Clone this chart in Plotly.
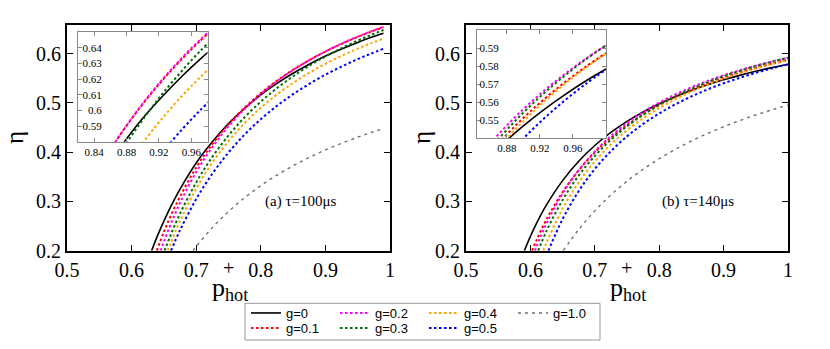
import plotly.graph_objects as go

# ---- data: efficiency eta vs p_hot^+ ----
G_LABELS = ["g=0", "g=0.1", "g=0.2", "g=0.3", "g=0.4", "g=0.5", "g=1.0"]

# (a) tau = 100 us
phot_a_g0 = [0.631, 0.64, 0.65, 0.66, 0.675, 0.7, 0.725, 0.75, 0.775, 0.8, 0.825, 0.85, 0.875, 0.9, 0.925, 0.95, 0.97, 0.99]
eta_a_g0 = [0.2, 0.230, 0.260, 0.288, 0.325, 0.378, 0.421, 0.458, 0.489, 0.516, 0.5395, 0.560, 0.5784, 0.595, 0.6094, 0.6227, 0.6324, 0.6414]
phot_a_g01 = [0.639, 0.65, 0.66, 0.675, 0.7, 0.725, 0.75, 0.775, 0.8, 0.825, 0.85, 0.875, 0.9, 0.925, 0.95, 0.97, 0.99]
eta_a_g01 = [0.2, 0.238, 0.269, 0.310, 0.369, 0.4165, 0.4565, 0.4904, 0.5195, 0.5449, 0.567, 0.5866, 0.6041, 0.6197, 0.6338, 0.6441, 0.6537]
phot_a_g02 = [0.645, 0.65, 0.66, 0.675, 0.7, 0.725, 0.75, 0.775, 0.8, 0.825, 0.85, 0.875, 0.9, 0.925, 0.95, 0.97, 0.99]
eta_a_g02 = [0.2, 0.2183, 0.2521, 0.2971, 0.3595, 0.4103, 0.4523, 0.4877, 0.5178, 0.5439, 0.5666, 0.5866, 0.6044, 0.6202, 0.6345, 0.6448, 0.6544]
phot_a_g03 = [0.651, 0.66, 0.675, 0.7, 0.725, 0.75, 0.775, 0.8, 0.825, 0.85, 0.875, 0.9, 0.925, 0.95, 0.97, 0.99]
eta_a_g03 = [0.2, 0.2302, 0.2752, 0.3385, 0.3905, 0.4339, 0.4708, 0.5024, 0.5299, 0.5539, 0.5752, 0.5941, 0.6111, 0.6263, 0.6375, 0.6479]
phot_a_g04 = [0.656, 0.66, 0.675, 0.7, 0.725, 0.75, 0.775, 0.8, 0.825, 0.85, 0.875, 0.9, 0.925, 0.95, 0.97, 0.99]
eta_a_g04 = [0.2, 0.2138, 0.2608, 0.326, 0.3787, 0.4223, 0.4589, 0.4901, 0.517, 0.5404, 0.561, 0.5792, 0.5955, 0.6101, 0.6207, 0.6306]
phot_a_g05 = [0.661, 0.675, 0.7, 0.725, 0.75, 0.775, 0.8, 0.825, 0.85, 0.875, 0.9, 0.925, 0.95, 0.97, 0.99]
eta_a_g05 = [0.2, 0.2417, 0.3047, 0.3563, 0.3993, 0.4357, 0.4669, 0.4939, 0.5176, 0.5385, 0.5571, 0.5737, 0.5887, 0.5996, 0.6098]
phot_a_g10 = [0.695, 0.7, 0.725, 0.75, 0.775, 0.8, 0.825, 0.85, 0.875, 0.9, 0.925, 0.95, 0.97, 0.99]
eta_a_g10 = [0.2, 0.2085, 0.2468, 0.2795, 0.3075, 0.332, 0.3534, 0.3723, 0.3892, 0.4044, 0.418, 0.4304, 0.4395, 0.448]

# (b) tau = 140 us
phot_b_g0 = [0.5906, 0.6, 0.61, 0.625, 0.65, 0.675, 0.7, 0.725, 0.75, 0.775, 0.8, 0.825, 0.85, 0.875, 0.9, 0.925, 0.95, 0.975, 1.0]
eta_b_g0 = [0.2, 0.2291, 0.2568, 0.2929, 0.3422, 0.3815, 0.4135, 0.44, 0.4624, 0.4815, 0.4981, 0.5126, 0.5253, 0.5366, 0.5467, 0.5558, 0.564, 0.5715, 0.5783]
phot_b_g01 = [0.6025, 0.61, 0.625, 0.65, 0.675, 0.7, 0.725, 0.75, 0.775, 0.8, 0.825, 0.85, 0.875, 0.9, 0.925, 0.95, 0.975, 1.0]
eta_b_g01 = [0.2, 0.2229, 0.2635, 0.3189, 0.3632, 0.3994, 0.4295, 0.4549, 0.4767, 0.4956, 0.5121, 0.5266, 0.5395, 0.5511, 0.5615, 0.5709, 0.5794, 0.5872]
phot_b_g02 = [0.607, 0.61, 0.625, 0.65, 0.675, 0.7, 0.725, 0.75, 0.775, 0.8, 0.825, 0.85, 0.875, 0.9, 0.925, 0.95, 0.975, 1.0]
eta_b_g02 = [0.2, 0.2101, 0.2552, 0.3158, 0.3632, 0.4014, 0.4328, 0.459, 0.4813, 0.5004, 0.517, 0.5316, 0.5445, 0.556, 0.5662, 0.5755, 0.5839, 0.5915]
phot_b_g03 = [0.612, 0.625, 0.65, 0.675, 0.7, 0.725, 0.75, 0.775, 0.8, 0.825, 0.85, 0.875, 0.9, 0.925, 0.95, 0.975, 1.0]
eta_b_g03 = [0.2, 0.2401, 0.303, 0.3524, 0.3922, 0.425, 0.4524, 0.4757, 0.4958, 0.5132, 0.5285, 0.542, 0.5541, 0.5649, 0.5746, 0.5835, 0.5915]
phot_b_g04 = [0.62, 0.625, 0.65, 0.675, 0.7, 0.725, 0.75, 0.775, 0.8, 0.825, 0.85, 0.875, 0.9, 0.925, 0.95, 0.975, 1.0]
eta_b_g04 = [0.2, 0.2163, 0.2853, 0.3387, 0.3811, 0.4157, 0.4445, 0.4688, 0.4895, 0.5075, 0.5231, 0.537, 0.5492, 0.5602, 0.57, 0.5789, 0.587]
phot_b_g05 = [0.628, 0.65, 0.675, 0.7, 0.725, 0.75, 0.775, 0.8, 0.825, 0.85, 0.875, 0.9, 0.925, 0.95, 0.975, 1.0]
eta_b_g05 = [0.2, 0.2642, 0.321, 0.3658, 0.402, 0.432, 0.4571, 0.4785, 0.497, 0.513, 0.5272, 0.5397, 0.5508, 0.5608, 0.5699, 0.578]
phot_b_g10 = [0.651, 0.675, 0.7, 0.725, 0.75, 0.775, 0.8, 0.825, 0.85, 0.875, 0.9, 0.925, 0.95, 0.975, 1.0]
eta_b_g10 = [0.2, 0.243, 0.2808, 0.3131, 0.3409, 0.3653, 0.3866, 0.4056, 0.4226, 0.4378, 0.4515, 0.464, 0.4754, 0.4858, 0.4954]

X_TICKS = [0.5, 0.6, 0.7, 0.8, 0.9, 1.0]
X_TICK_TEXT = ["0.5", "0.6", "0.7", "0.8", "0.9", "1"]
Y_TICKS = [0.2, 0.3, 0.4, 0.5, 0.6]
INSET_A_X = [0.84, 0.88, 0.92, 0.96]
INSET_A_Y = [0.59, 0.60, 0.61, 0.62, 0.63, 0.64]
INSET_A_Y_TEXT = ["0.59", "0.6", "0.61", "0.62", "0.63", "0.64"]
INSET_B_X = [0.88, 0.92, 0.96]
INSET_B_Y = [0.55, 0.56, 0.57, 0.58, 0.59]

PANEL_A = [(phot_a_g0, eta_a_g0), (phot_a_g01, eta_a_g01), (phot_a_g02, eta_a_g02),
           (phot_a_g03, eta_a_g03), (phot_a_g04, eta_a_g04), (phot_a_g05, eta_a_g05),
           (phot_a_g10, eta_a_g10)]
PANEL_B = [(phot_b_g0, eta_b_g0), (phot_b_g01, eta_b_g01), (phot_b_g02, eta_b_g02),
           (phot_b_g03, eta_b_g03), (phot_b_g04, eta_b_g04), (phot_b_g05, eta_b_g05),
           (phot_b_g10, eta_b_g10)]

# ---- styles ----
COLORS = ["black", "#ff0000", "#ff00ff", "#007000", "#ffa500", "#0000ff", "#707070"]
DASHES = ["solid", "2.5px,2.5px", "2.5px,2.5px", "2.5px,2.5px", "2.5px,2.5px", "2.5px,2.5px", "3px,4px"]
WIDTHS = [1.6, 2, 2, 2, 2, 2, 1.4]
# legend rows: gnuplot fills columns first
LEGEND_OF = ["legend", "legend2", "legend", "legend2", "legend", "legend2", "legend"]
LEGEND_RANK = [1, 1, 2, 2, 3, 3, 4]

W, H = 830, 349
SERIF = "Liberation Serif, Times New Roman, serif"
SANS = "Liberation Sans, Arial, sans-serif"


def px(x0, x1):
    return [x0 / W, x1 / W]


def py(top, bottom):
    return [1 - bottom / H, 1 - top / H]


fig = go.Figure()

# main panels first, insets after so they sit on top
for xa, ya, panel, show in [("x", "y", PANEL_A, True), ("x2", "y2", PANEL_B, False),
                            ("x3", "y3", PANEL_A, False), ("x4", "y4", PANEL_B, False)]:
    for i, (xs, ys) in enumerate(panel):
        fig.add_trace(go.Scatter(
            x=xs, y=ys, mode="lines", xaxis=xa, yaxis=ya,
            name=G_LABELS[i], showlegend=show,
            legend=LEGEND_OF[i], legendrank=LEGEND_RANK[i],
            line=dict(color=COLORS[i], dash=DASHES[i], width=WIDTHS[i], shape="spline"),
            hoverinfo="skip",
        ))

main_axis = dict(showgrid=False, zeroline=False, showline=True, linecolor="black", linewidth=2,
                 mirror="ticks", ticks="inside", ticklen=6, tickwidth=1, tickcolor="black",
                 automargin=False, tickfont=dict(family=SERIF, size=20, color="black"))
inset_axis = dict(showgrid=False, zeroline=False, showline=True, linecolor="#888888", linewidth=1,
                  mirror="ticks", ticks="inside", ticklen=4, tickwidth=1, tickcolor="#888888",
                  automargin=False, tickfont=dict(family=SERIF, size=11, color="black"))

dom_y_main = py(25, 250.7)
fig.update_layout(
    template="none",
    width=W, height=H, autosize=False,
    margin=dict(l=0, r=0, t=0, b=0),
    paper_bgcolor="white", plot_bgcolor="white",
    xaxis=dict(main_axis, domain=px(67, 390), range=[0.5, 1.0], tickvals=X_TICKS, ticktext=X_TICK_TEXT, anchor="y"),
    yaxis=dict(main_axis, domain=dom_y_main, range=[0.2, 0.658], tickvals=Y_TICKS, anchor="x"),
    xaxis2=dict(main_axis, domain=px(466, 788), range=[0.5, 1.0], tickvals=X_TICKS, ticktext=X_TICK_TEXT, anchor="y2"),
    yaxis2=dict(main_axis, domain=dom_y_main, range=[0.2, 0.658], tickvals=Y_TICKS, anchor="x2"),
    xaxis3=dict(inset_axis, domain=px(78, 207.5), range=[0.82, 0.98], tickvals=INSET_A_X, anchor="y3"),
    yaxis3=dict(inset_axis, domain=py(32.3, 141.7), range=[0.58, 0.65], tickvals=INSET_A_Y,
                ticktext=INSET_A_Y_TEXT, ticklabelstandoff=-27, anchor="x3"),
    xaxis4=dict(inset_axis, domain=px(477, 606), range=[0.844, 1.0], tickvals=INSET_B_X, anchor="y4"),
    yaxis4=dict(inset_axis, domain=py(30, 138), range=[0.54, 0.60], tickvals=INSET_B_Y,
                ticklabelstandoff=-25, anchor="x4"),
    legend=dict(orientation="h", x=246 / W, y=1 - 298 / H, xanchor="left", yanchor="top",
                entrywidth=44, font=dict(family=SANS, size=13, color="black"),
                bgcolor="rgba(0,0,0,0)", borderwidth=0, tracegroupgap=0),
    legend2=dict(orientation="h", x=246 / W, y=1 - 313 / H, xanchor="left", yanchor="top",
                 entrywidth=44, font=dict(family=SANS, size=13, color="black"),
                 bgcolor="rgba(0,0,0,0)", borderwidth=0, tracegroupgap=0),
    showlegend=True,
)

# legend frame around both legend rows
fig.add_shape(type="rect", xref="paper", yref="paper",
              x0=245 / W, x1=600 / W, y0=1 - 340 / H, y1=1 - 303.3 / H,
              line=dict(color="#999999", width=1), fillcolor="rgba(0,0,0,0)", layer="below")

# panel labels
fig.add_annotation(x=0.861, y=0.30, xref="x", yref="y", text="(a) \u03c4=100\u03bcs", showarrow=False,
                   font=dict(family=SERIF, size=15, color="black"))
fig.add_annotation(x=0.861, y=0.30, xref="x2", yref="y2", text="(b) \u03c4=140\u03bcs", showarrow=False,
                   font=dict(family=SERIF, size=15, color="black"))

# axis titles (gnuplot-style, placed as free text)
for cx_eta, cx_p in [(14, 230), (421, 628)]:
    fig.add_annotation(x=cx_eta / W, y=1 - 138 / H, xref="paper", yref="paper", text="\u03b7",
                       xanchor="center", yanchor="middle", textangle=-90, showarrow=False,
                       font=dict(family=SERIF, size=25, color="black"))
    fig.add_annotation(x=cx_p / W, y=1 - 289 / H, xref="paper", yref="paper", text="p<sub>hot</sub>",
                       xanchor="center", yanchor="middle", showarrow=False,
                       font=dict(family=SERIF, size=26, color="black"))
    fig.add_annotation(x=(cx_p - 2) / W, y=1 - 268 / H, xref="paper", yref="paper", text="+",
                       xanchor="center", yanchor="middle", showarrow=False,
                       font=dict(family=SERIF, size=20, color="black"))

# drop the browser's default page margin so the figure sits at the window origin
fig.write_html("out.html", config={"displayModeBar": False},
               post_script="document.body.style.margin = '0';")
